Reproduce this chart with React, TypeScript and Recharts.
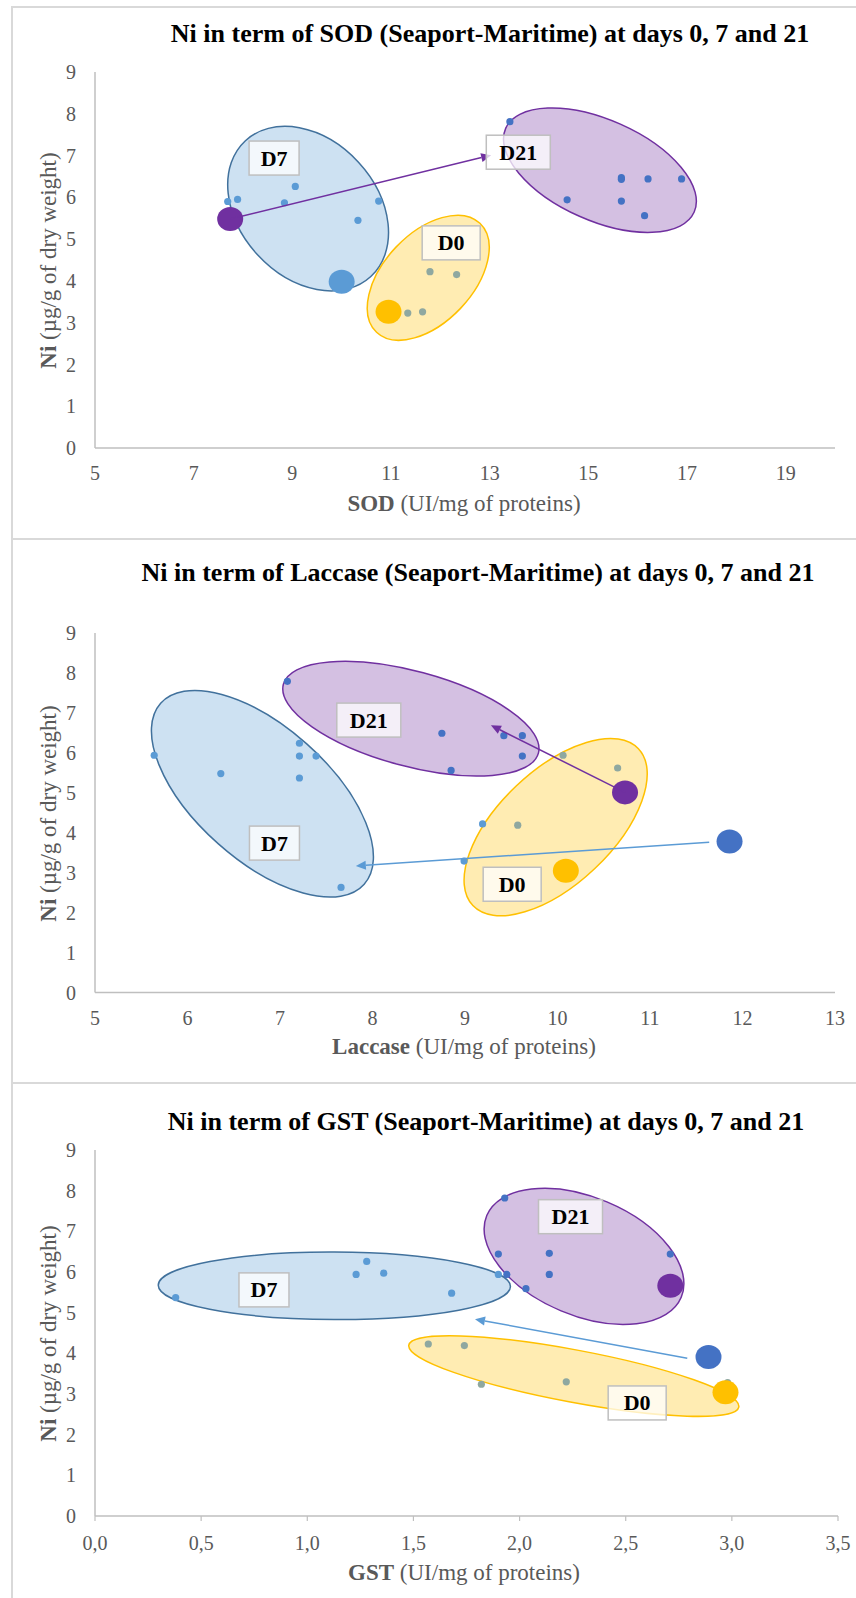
import React from 'react';
import {
  ScatterChart,
  Scatter,
  XAxis,
  YAxis,
  ReferenceArea,
  ReferenceLine,
  ReferenceDot,
} from 'recharts';

const FONT = '"Liberation Serif", "Times New Roman", serif';
const GREY_TEXT = '#595959';
const AXIS = '#BFBFBF';
const BLUE_LIGHT = '#5B9BD5';
const BLUE = '#4472C4';
const GREEN_GREY = '#8FA8A0';
const YELLOW = '#FFC000';
const PURPLE = '#7030A0';
const OUTLINE_D7 = '#41719C';

// shared y axis
const niTicks = [0, 1, 2, 3, 4, 5, 6, 7, 8, 9];

// ---------- SOD ----------
const sodTicks = [5, 7, 9, 11, 13, 15, 17, 19];
const sodD7 = [
  { x: 7.69, y: 5.9 }, { x: 7.89, y: 5.95 }, { x: 8.84, y: 5.87 },
  { x: 9.06, y: 6.26 }, { x: 10.33, y: 5.45 }, { x: 10.75, y: 5.91 },
];
const sodD0 = [
  { x: 11.79, y: 4.22 }, { x: 12.33, y: 4.15 }, { x: 11.34, y: 3.23 }, { x: 11.64, y: 3.26 },
];
const sodD21 = [
  { x: 13.41, y: 7.81 }, { x: 14.57, y: 5.94 }, { x: 15.67, y: 6.47 }, { x: 15.67, y: 6.43 },
  { x: 16.21, y: 6.44 }, { x: 16.89, y: 6.44 }, { x: 15.67, y: 5.91 }, { x: 16.14, y: 5.56 },
];
const sodMeanD7 = [{ x: 10.0, y: 3.98 }];
const sodMeanD0 = [{ x: 10.95, y: 3.26 }];
const sodMeanD21 = [{ x: 7.74, y: 5.48 }];

// ---------- Laccase ----------
const lacTicks = [5, 6, 7, 8, 9, 10, 11, 12, 13];
const lacD7 = [
  { x: 5.64, y: 5.94 }, { x: 6.36, y: 5.48 }, { x: 7.21, y: 6.24 }, { x: 7.21, y: 5.92 },
  { x: 7.39, y: 5.92 }, { x: 7.21, y: 5.37 }, { x: 7.66, y: 2.63 }, { x: 9.19, y: 4.22 },
  { x: 8.99, y: 3.29 },
];
const lacD0 = [{ x: 10.06, y: 5.94 }, { x: 10.65, y: 5.62 }, { x: 9.57, y: 4.19 }];
const lacD21 = [
  { x: 7.08, y: 7.79 }, { x: 8.75, y: 6.49 }, { x: 9.42, y: 6.43 },
  { x: 9.62, y: 6.43 }, { x: 9.62, y: 5.92 }, { x: 8.85, y: 5.56 },
];
const lacMeanD7 = [{ x: 11.86, y: 3.78 }];
const lacMeanD0 = [{ x: 10.09, y: 3.05 }];
const lacMeanD21 = [{ x: 10.73, y: 5.01 }];

// ---------- GST ----------
const gstTicks = [0, 0.5, 1, 1.5, 2, 2.5, 3, 3.5];
const gstD7 = [
  { x: 0.38, y: 5.37 }, { x: 1.23, y: 5.94 }, { x: 1.28, y: 6.26 },
  { x: 1.36, y: 5.97 }, { x: 1.68, y: 5.48 }, { x: 1.9, y: 5.94 },
];
const gstD0 = [
  { x: 1.57, y: 4.23 }, { x: 1.74, y: 4.19 }, { x: 1.82, y: 3.24 },
  { x: 2.22, y: 3.3 }, { x: 2.98, y: 3.28 },
];
const gstD21 = [
  { x: 1.93, y: 7.82 }, { x: 1.9, y: 6.44 }, { x: 2.14, y: 6.46 }, { x: 2.14, y: 5.94 },
  { x: 1.94, y: 5.94 }, { x: 2.03, y: 5.59 }, { x: 2.71, y: 6.44 },
];
const gstMeanD7 = [{ x: 2.89, y: 3.91 }];
const gstMeanD0 = [{ x: 2.97, y: 3.04 }];
const gstMeanD21 = [{ x: 2.71, y: 5.66 }];

// group outlines: bounding box in data units + tilt (top point offset / half width)
const sodGroups = [
  { x1: 7.69, x2: 10.95, y1: 3.76, y2: 7.7, tilt: -0.29, fill: BLUE_LIGHT, stroke: OUTLINE_D7 },
  { x1: 10.52, x2: 12.99, y1: 2.58, y2: 5.57, tilt: 0.48, fill: YELLOW, stroke: YELLOW },
  { x1: 13.28, x2: 17.19, y1: 5.16, y2: 8.14, tilt: -0.5, fill: PURPLE, stroke: PURPLE },
];
const lacGroups = [
  { x1: 5.61, x2: 8.01, y1: 2.39, y2: 7.56, tilt: -0.61, fill: BLUE_LIGHT, stroke: OUTLINE_D7 },
  { x1: 7.03, x2: 9.8, y1: 5.42, y2: 8.29, tilt: -0.52, fill: PURPLE, stroke: PURPLE },
  { x1: 8.99, x2: 10.97, y1: 1.92, y2: 6.36, tilt: 0.6, fill: YELLOW, stroke: YELLOW },
];
const gstGroups = [
  { x1: 0.298, x2: 1.957, y1: 4.83, y2: 6.49, tilt: -0.02, fill: BLUE_LIGHT, stroke: OUTLINE_D7 },
  { x1: 1.833, x2: 2.774, y1: 4.71, y2: 8.06, tilt: -0.4, fill: PURPLE, stroke: PURPLE },
  { x1: 1.478, x2: 3.033, y1: 2.45, y2: 4.43, tilt: -0.75, fill: YELLOW, stroke: YELLOW },
];

const sodLabels = [
  { x: 8.63, y: 6.94, text: 'D7' },
  { x: 13.58, y: 7.08, text: 'D21' },
  { x: 12.22, y: 4.91, text: 'D0' },
];
const lacLabels = [
  { x: 7.96, y: 6.82, text: 'D21' },
  { x: 6.94, y: 3.74, text: 'D7' },
  { x: 9.51, y: 2.71, text: 'D0' },
];
const gstLabels = [
  { x: 2.24, y: 7.36, text: 'D21' },
  { x: 0.796, y: 5.56, text: 'D7' },
  { x: 2.554, y: 2.78, text: 'D0' },
];

const sodArrows = [{ x1: 7.74, y1: 5.48, x2: 13.03, y2: 7.01, color: PURPLE }];
const lacArrows = [
  { x1: 10.73, y1: 5.01, x2: 9.28, y2: 6.69, color: PURPLE },
  { x1: 11.64, y1: 3.76, x2: 7.82, y2: 3.17, color: BLUE_LIGHT },
];
const gstArrows = [{ x1: 2.79, y1: 3.88, x2: 1.79, y2: 4.84, color: BLUE_LIGHT }];

const ellipseShape = (tilt: number, fill: string, stroke: string) => (p: any) => {
  const left = Math.min(p.x, p.x + p.width);
  const top = Math.min(p.y, p.y + p.height);
  const W = Math.abs(p.width) / 2;
  const H = Math.abs(p.height) / 2;
  const cx = left + W;
  const cy = top + H;
  const K = -tilt * W * H;
  const diff = W * W - H * H;
  const D = Math.sqrt(4 * K * K + diff * diff);
  const phi = Math.atan2(2 * K, diff) / 2;
  const a = Math.sqrt((W * W + H * H + D) / 2);
  const b = Math.sqrt(Math.max(0, (W * W + H * H - D) / 2));
  return (
    <ellipse
      cx={cx}
      cy={cy}
      rx={a}
      ry={b}
      transform={`rotate(${(phi * 180) / Math.PI} ${cx} ${cy})`}
      fill={fill}
      fillOpacity={0.3}
      stroke={stroke}
      strokeWidth={1.5}
    />
  );
};

const arrowShape = (color: string) => (p: any) => {
  const { x1, y1, x2, y2 } = p;
  const ang = Math.atan2(y2 - y1, x2 - x1);
  const L = 10;
  const w = 4.5;
  const bx = x2 - L * Math.cos(ang);
  const by = y2 - L * Math.sin(ang);
  const pts = `${x2},${y2} ${bx + w * Math.sin(ang)},${by - w * Math.cos(ang)} ${bx - w * Math.sin(ang)},${by + w * Math.cos(ang)}`;
  return (
    <g>
      <line x1={x1} y1={y1} x2={bx} y2={by} stroke={color} strokeWidth={1.5} />
      <polygon points={pts} fill={color} />
    </g>
  );
};

const labelShape = (text: string) => (p: any) => {
  const w = text.length > 2 ? 64 : text === 'D0' ? 58 : 50;
  const h = 34;
  return (
    <g>
      <rect
        x={p.cx - w / 2}
        y={p.cy - h / 2}
        width={w}
        height={h}
        fill="#FFFFFF"
        fillOpacity={0.75}
        stroke="#BFBFBF"
        strokeWidth={1.5}
      />
      <text
        x={p.cx}
        y={p.cy + 7.5}
        textAnchor="middle"
        fontFamily={FONT}
        fontWeight="bold"
        fontSize={22}
        fill="#000"
      >
        {text}
      </text>
    </g>
  );
};

const dot = (color: string) => (p: any) => <circle cx={p.cx} cy={p.cy} r={3.6} fill={color} />;
const bigDot = (color: string) => (p: any) => (
  <ellipse cx={p.cx} cy={p.cy} rx={13} ry={12} fill={color} />
);

const XTick = (fmt?: (v: number) => string) => (p: any) => (
  <text
    x={p.x}
    y={p.y}
    dy="0.71em"
    textAnchor="middle"
    fontFamily={FONT}
    fontSize={20}
    fill={GREY_TEXT}
  >
    {fmt ? fmt(p.payload.value) : p.payload.value}
  </text>
);

const YTick = (p: any) => (
  <text
    x={p.x}
    y={p.y}
    dy="0.355em"
    textAnchor="end"
    fontFamily={FONT}
    fontSize={20}
    fill={GREY_TEXT}
  >
    {p.payload.value}
  </text>
);

interface PanelProps {
  top: number;
  height: number;
  plotTop: number;
  plotBottom: number;
  plotRight: number;
  title: string;
  titleX: number;
  titleY: number;
  xBold: string;
  xTitleY: number;
  yTitleY: number;
  domain: [number, number];
  ticks: number[];
  tickFmt?: (v: number) => string;
  xTickLine?: boolean;
  series: { data: { x: number; y: number }[]; shape: any }[];
  groups: typeof sodGroups;
  labels: typeof sodLabels;
  arrows: typeof sodArrows;
}

const Panel = (props: PanelProps) => {
  const W = 856;
  const xAxisH = 40;
  const marginBottom = props.height - props.plotBottom - xAxisH;
  return (
    <>
      <div
        style={{
          position: 'absolute',
          left: 11,
          top: props.top,
          width: 860,
          height: props.height + 10,
          borderLeft: '2px solid #D9D9D9',
          borderTop: '2px solid #D9D9D9',
          boxSizing: 'border-box',
        }}
      />
      <div style={{ position: 'absolute', left: 0, top: props.top }}>
        <ScatterChart
          width={W}
          height={props.height}
          margin={{ top: props.plotTop, right: W - props.plotRight, bottom: marginBottom, left: 35 }}
        >
          <XAxis
            type="number"
            dataKey="x"
            domain={props.domain}
            ticks={props.ticks}
            interval={0}
            height={xAxisH}
            axisLine={{ stroke: AXIS, strokeWidth: 1.5 }}
            tickLine={props.xTickLine ? { stroke: AXIS, strokeWidth: 1.2 } : false}
            tickSize={props.xTickLine ? 5 : 0}
            tickMargin={props.xTickLine ? 15 : 18}
            tick={XTick(props.tickFmt)}
          />
          <YAxis
            type="number"
            dataKey="y"
            domain={[0, 9]}
            ticks={niTicks}
            interval={0}
            width={60}
            axisLine={{ stroke: AXIS, strokeWidth: 1.5 }}
            tickLine={false}
            tickSize={0}
            tickMargin={19}
            tick={YTick}
          />
          {props.groups.map((g, i) => (
            <ReferenceArea
              key={`g${i}`}
              x1={g.x1}
              x2={g.x2}
              y1={g.y1}
              y2={g.y2}
              ifOverflow="visible"
              zIndex={100}
              shape={ellipseShape(g.tilt, g.fill, g.stroke)}
            />
          ))}
          {props.series.map((s, i) => (
            <Scatter
              key={`s${i}`}
              data={s.data}
              shape={s.shape}
              isAnimationActive={false}
              zIndex={600}
            />
          ))}
          {props.arrows.map((a, i) => (
            <ReferenceLine
              key={`a${i}`}
              segment={[{ x: a.x1, y: a.y1 }, { x: a.x2, y: a.y2 }]}
              ifOverflow="visible"
              zIndex={700}
              shape={arrowShape(a.color)}
            />
          ))}
          {props.labels.map((l, i) => (
            <ReferenceDot
              key={`l${i}`}
              x={l.x}
              y={l.y}
              r={1}
              ifOverflow="visible"
              zIndex={800}
              shape={labelShape(l.text)}
            />
          ))}
        </ScatterChart>
      </div>
      <div
        style={{
          position: 'absolute',
          left: props.titleX - 400,
          width: 800,
          top: props.titleY - 13,
          lineHeight: '26px',
          fontSize: 26,
          fontWeight: 'bold',
          fontFamily: FONT,
          textAlign: 'center',
          color: '#000',
          whiteSpace: 'nowrap',
        }}
      >
        {props.title}
      </div>
      <div
        style={{
          position: 'absolute',
          left: 464 - 300,
          width: 600,
          top: props.xTitleY - 11.5,
          lineHeight: '23px',
          fontSize: 23,
          fontFamily: FONT,
          textAlign: 'center',
          color: GREY_TEXT,
          whiteSpace: 'nowrap',
        }}
      >
        <b>{props.xBold}</b> (UI/mg of proteins)
      </div>
      <div
        style={{
          position: 'absolute',
          left: 48 - 200,
          width: 400,
          top: props.yTitleY - 11.5,
          lineHeight: '23px',
          fontSize: 23,
          fontFamily: FONT,
          textAlign: 'center',
          color: GREY_TEXT,
          whiteSpace: 'nowrap',
          transform: 'rotate(-90deg)',
        }}
      >
        <b>Ni</b> (µg/g of dry weight)
      </div>
    </>
  );
};

const fmtComma = (v: number) => v.toFixed(1).replace('.', ',');

export default function App() {
  return (
    <div
      style={{
        position: 'absolute',
        left: 0,
        top: 0,
        width: 856,
        height: 1598,
        overflow: 'hidden',
        background: '#fff',
      }}
    >
      <Panel
        top={6}
        height={532}
        plotTop={66}
        plotBottom={442}
        plotRight={835}
        title="Ni in term of SOD (Seaport-Maritime) at days 0, 7 and 21"
        titleX={490}
        titleY={34}
        xBold="SOD"
        xTitleY={503}
        yTitleY={260}
        domain={[5, 20]}
        ticks={sodTicks}
        series={[
          { data: sodD7, shape: dot(BLUE_LIGHT) },
          { data: sodD0, shape: dot(GREEN_GREY) },
          { data: sodD21, shape: dot(BLUE) },
          { data: sodMeanD7, shape: bigDot(BLUE_LIGHT) },
          { data: sodMeanD0, shape: bigDot(YELLOW) },
          { data: sodMeanD21, shape: bigDot(PURPLE) },
        ]}
        groups={sodGroups}
        labels={sodLabels}
        arrows={sodArrows}
      />
      <Panel
        top={538}
        height={544}
        plotTop={95}
        plotBottom={454.5}
        plotRight={835}
        title="Ni in term of Laccase (Seaport-Maritime) at days 0, 7 and 21"
        titleX={478}
        titleY={573}
        xBold="Laccase"
        xTitleY={1046.5}
        yTitleY={813}
        domain={[5, 13]}
        ticks={lacTicks}
        series={[
          { data: lacD7, shape: dot(BLUE_LIGHT) },
          { data: lacD0, shape: dot(GREEN_GREY) },
          { data: lacD21, shape: dot(BLUE) },
          { data: lacMeanD7, shape: bigDot(BLUE) },
          { data: lacMeanD0, shape: bigDot(YELLOW) },
          { data: lacMeanD21, shape: bigDot(PURPLE) },
        ]}
        groups={lacGroups}
        labels={lacLabels}
        arrows={lacArrows}
      />
      <Panel
        top={1082}
        height={516}
        plotTop={68}
        plotBottom={434}
        plotRight={838}
        title="Ni in term of GST (Seaport-Maritime) at days 0, 7 and 21"
        titleX={486}
        titleY={1122}
        xBold="GST"
        xTitleY={1572}
        yTitleY={1333}
        domain={[0, 3.5]}
        ticks={gstTicks}
        tickFmt={fmtComma}
        xTickLine
        series={[
          { data: gstD7, shape: dot(BLUE_LIGHT) },
          { data: gstD0, shape: dot(GREEN_GREY) },
          { data: gstD21, shape: dot(BLUE) },
          { data: gstMeanD7, shape: bigDot(BLUE) },
          { data: gstMeanD0, shape: bigDot(YELLOW) },
          { data: gstMeanD21, shape: bigDot(PURPLE) },
        ]}
        groups={gstGroups}
        labels={gstLabels}
        arrows={gstArrows}
      />
    </div>
  );
}
